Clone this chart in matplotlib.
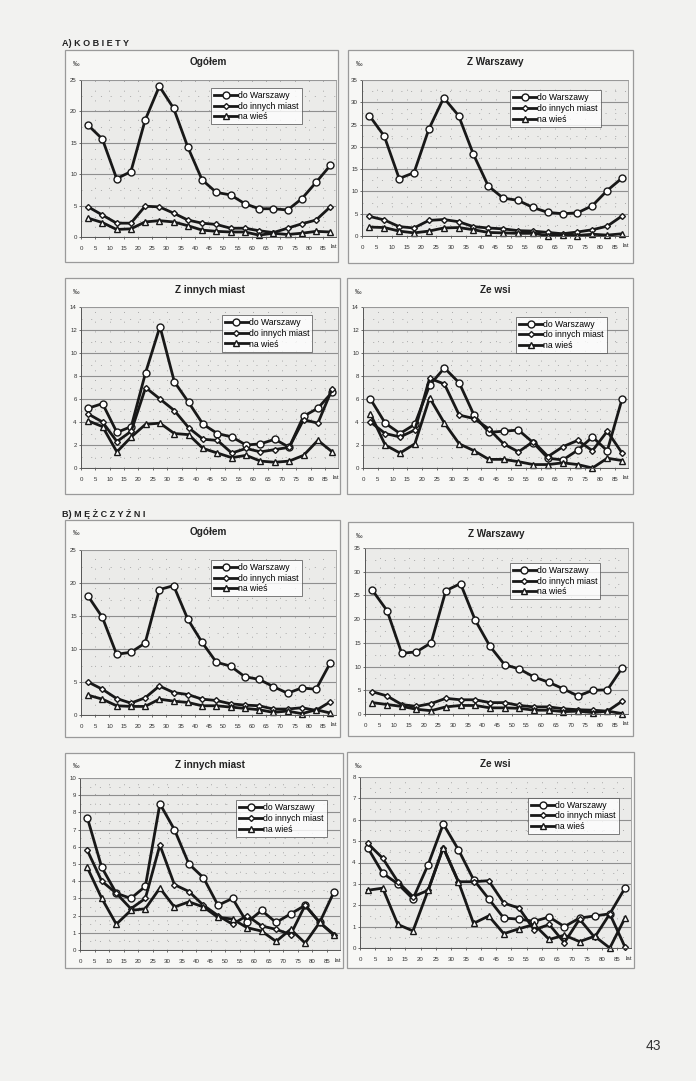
import matplotlib.pyplot as plt
from matplotlib.patches import Rectangle
from matplotlib.ticker import MultipleLocator

plt.rcParams['font.family'] = ['Liberation Sans', 'DejaVu Sans']

W, H = 696, 1081

# środki grup wieku 0-4, 5-9, ..., 85+
wiek = [2.5, 7.5, 12.5, 17.5, 22.5, 27.5, 32.5, 37.5, 42.5,
        47.5, 52.5, 57.5, 62.5, 67.5, 72.5, 77.5, 82.5, 87.5]
xticks = [0, 5, 10, 15, 20, 25, 30, 35, 40, 45, 50, 55, 60, 65, 70, 75, 80, 85]
serie = ['do Warszawy', 'do innych miast', 'na wieś']

# A) KOBIETY
k_ogolem_war = [17.8, 15.6, 9.3, 10.4, 18.6, 24.0, 20.5, 14.3, 9.1, 7.1, 6.7, 5.3, 4.5, 4.5, 4.3, 6.1, 8.7, 11.4]
k_ogolem_mia = [4.8, 3.5, 2.2, 2.2, 4.9, 4.8, 3.8, 2.7, 2.2, 2.0, 1.4, 1.4, 1.0, 0.7, 1.4, 2.1, 2.7, 4.8]
k_ogolem_wie = [3.0, 2.3, 1.2, 1.3, 2.4, 2.6, 2.4, 1.8, 1.1, 0.9, 0.8, 0.8, 0.3, 0.6, 0.4, 0.6, 0.9, 0.8]

k_zwar_war = [27.0, 22.4, 12.9, 14.2, 24.0, 31.0, 27.0, 18.3, 11.2, 8.5, 8.0, 6.4, 5.3, 5.0, 5.2, 6.8, 10.2, 13.0]
k_zwar_mia = [4.4, 3.6, 2.1, 1.8, 3.5, 3.7, 3.2, 2.1, 1.8, 1.6, 1.2, 1.1, 0.8, 0.5, 0.9, 1.4, 2.2, 4.5]
k_zwar_wie = [2.0, 1.9, 1.1, 0.7, 1.1, 1.8, 1.9, 1.4, 0.8, 0.7, 0.6, 0.6, 0.1, 0.2, 0.1, 0.4, 0.2, 0.5]

k_zmia_war = [5.2, 5.6, 3.1, 3.6, 8.3, 12.3, 7.5, 5.7, 3.8, 3.0, 2.7, 2.0, 2.1, 2.5, 1.8, 4.5, 5.2, 6.6]
k_zmia_mia = [4.7, 4.0, 2.3, 3.2, 7.0, 6.0, 5.0, 3.5, 2.5, 2.4, 1.3, 1.7, 1.4, 1.6, 1.8, 4.2, 3.9, 6.9]
k_zmia_wie = [4.1, 3.6, 1.4, 2.7, 3.8, 3.9, 3.0, 2.9, 1.7, 1.3, 0.9, 1.1, 0.6, 0.5, 0.6, 1.1, 2.4, 1.4]

k_zwsi_war = [6.0, 3.9, 3.0, 3.8, 7.2, 8.7, 7.4, 4.6, 3.1, 3.2, 3.3, 2.2, 0.85, 0.7, 1.55, 2.7, 1.5, 6.0]
k_zwsi_mia = [4.0, 3.0, 2.7, 3.3, 7.8, 7.3, 4.6, 4.3, 3.4, 2.1, 1.4, 2.3, 1.0, 1.85, 2.4, 1.5, 3.2, 1.3]
k_zwsi_wie = [4.7, 2.0, 1.3, 2.1, 6.1, 3.9, 2.1, 1.5, 0.75, 0.75, 0.55, 0.3, 0.3, 0.45, 0.3, 0.0, 0.85, 0.65]

# B) MĘŻCZYŹNI
m_ogolem_war = [18.0, 14.8, 9.2, 9.5, 10.9, 19.0, 19.6, 14.5, 11.0, 8.0, 7.4, 5.8, 5.4, 4.3, 3.3, 4.1, 3.9, 7.9]
m_ogolem_mia = [5.0, 3.9, 2.5, 1.8, 2.6, 4.4, 3.4, 3.1, 2.4, 2.2, 1.7, 1.5, 1.4, 0.9, 0.9, 1.1, 0.7, 2.0]
m_ogolem_wie = [3.0, 2.4, 1.4, 1.3, 1.3, 2.4, 2.1, 1.9, 1.4, 1.4, 1.2, 1.0, 0.8, 0.4, 0.6, 0.2, 0.8, 0.3]

m_zwar_war = [26.1, 21.8, 12.8, 13.1, 15.0, 26.0, 27.5, 19.8, 14.3, 10.4, 9.5, 7.8, 6.7, 5.3, 3.8, 5.0, 5.1, 9.7]
m_zwar_mia = [4.7, 3.8, 2.0, 1.6, 2.2, 3.3, 3.0, 3.0, 2.4, 2.4, 1.8, 1.5, 1.5, 1.1, 0.9, 0.8, 0.6, 2.7]
m_zwar_wie = [2.4, 2.0, 1.6, 1.0, 0.7, 1.5, 1.8, 1.8, 1.3, 1.3, 1.2, 0.8, 0.8, 0.5, 0.6, 0.3, 0.6, 0.1]

m_zmia_war = [7.7, 4.8, 3.3, 3.0, 3.7, 8.5, 7.0, 5.0, 4.2, 2.6, 3.0, 1.6, 2.3, 1.6, 2.1, 2.6, 1.6, 3.4]
m_zmia_mia = [5.8, 4.0, 3.3, 2.4, 3.0, 6.1, 3.8, 3.4, 2.6, 2.0, 1.5, 2.0, 1.4, 1.2, 0.9, 2.6, 1.6, 0.9]
m_zmia_wie = [4.8, 3.0, 1.5, 2.3, 2.4, 3.6, 2.5, 2.8, 2.5, 1.9, 1.8, 1.3, 1.1, 0.5, 1.2, 0.4, 1.6, 0.85]

m_zwsi_war = [4.7, 3.5, 3.0, 2.3, 3.9, 5.8, 4.6, 3.2, 2.3, 1.4, 1.35, 1.25, 1.45, 1.0, 1.4, 1.5, 1.6, 2.8]
m_zwsi_mia = [4.9, 4.2, 3.1, 2.4, 2.7, 4.7, 3.1, 3.1, 3.15, 2.1, 1.87, 0.85, 1.1, 0.25, 1.35, 0.5, 1.6, 0.05]
m_zwsi_wie = [2.7, 2.8, 1.1, 0.8, 2.7, 4.7, 3.1, 1.15, 1.5, 0.67, 0.9, 1.1, 0.4, 0.6, 0.3, 0.55, 0.0, 1.4]

# układ strony w pikselach: ramka, obszar wykresu, zakres osi y, krok, legenda
panele = [
    ('Ogółem', (65, 50, 338, 262), (81, 80, 336, 237), 25, 5, (0.51, 0.95),
     (k_ogolem_war, k_ogolem_mia, k_ogolem_wie)),
    ('Z Warszawy', (348, 50, 633, 263), (362, 80, 628, 236), 35, 5, (0.556, 0.935),
     (k_zwar_war, k_zwar_mia, k_zwar_wie)),
    ('Z innych miast', (65, 278, 340, 494), (81, 307, 338, 468), 14, 2, (0.548, 0.95),
     (k_zmia_war, k_zmia_mia, k_zmia_wie)),
    ('Ze wsi', (347, 278, 633, 494), (363, 307, 628, 468), 14, 2, (0.577, 0.94),
     (k_zwsi_war, k_zwsi_mia, k_zwsi_wie)),
    ('Ogółem', (65, 520, 340, 737), (81, 550, 336, 715), 25, 5, (0.51, 0.94),
     (m_ogolem_war, m_ogolem_mia, m_ogolem_wie)),
    ('Z Warszawy', (348, 522, 633, 736), (365, 548, 628, 714), 35, 5, (0.55, 0.91),
     (m_zwar_war, m_zwar_mia, m_zwar_wie)),
    ('Z innych miast', (65, 753, 343, 968), (80, 778, 340, 950), 10, 1, (0.6, 0.87),
     (m_zmia_war, m_zmia_mia, m_zmia_wie)),
    ('Ze wsi', (347, 752, 634, 968), (360, 777, 631, 948), 8, 1, (0.62, 0.88),
     (m_zwsi_war, m_zwsi_mia, m_zwsi_wie)),
]

style = [dict(marker='o', ms=5.0), dict(marker='D', ms=3.0), dict(marker='^', ms=4.3)]


def frac(x0, y0, x1, y1):
    return [x0 / W, 1 - y1 / H, (x1 - x0) / W, (y1 - y0) / H]


fig = plt.figure(figsize=(W / 100, H / 100), dpi=100, facecolor='#f2f2f0')

for tytul, box, plot, ymax, krok, leg, dane in panele:
    bx = frac(*box)
    fig.patches.append(Rectangle((bx[0], bx[1]), bx[2], bx[3], transform=fig.transFigure,
                                 facecolor='#f7f7f5', edgecolor='#9a9a9a', lw=0.9, zorder=-5))
    fig.text((plot[0] + plot[2]) / 2 / W, 1 - (box[1] + 12) / H, tytul,
             ha='center', va='center', fontsize=7.2, fontweight='bold', color='#222222')
    fig.text((box[0] + 8) / W, 1 - (box[1] + 14) / H, '‰',
             ha='left', va='center', fontsize=4.8, color='#333333')

    ax = fig.add_axes(frac(*plot))
    ax.set_zorder(2)
    ax.set_facecolor('#ebebe9')
    for y, st, nazwa in zip(dane, style, serie):
        ax.plot(wiek, y, color='#181818', lw=2.0, mfc='white', mec='#181818',
                mew=1.0, label=nazwa, clip_on=False, **st)
    ax.set_xlim(0, 89.5)
    ax.set_ylim(0, ymax)
    ax.set_xticks(xticks)
    ax.yaxis.set_major_locator(MultipleLocator(krok))
    ax.yaxis.set_minor_locator(MultipleLocator(krok / 2))
    ax.grid(axis='y', which='major', color='#8f8f8f', lw=0.8)
    ax.grid(axis='y', which='minor', color='#a8a8a8', lw=0.7, ls=(0, (1, 9)))
    ax.grid(axis='x', which='major', color='#a8a8a8', lw=0.7, ls=(0, (1, 9)))
    ax.set_axisbelow(True)
    ax.tick_params(labelsize=4.4, length=1.5, width=0.5, colors='#333333', pad=1.5)
    ax.tick_params(axis='x', pad=5)
    ax.tick_params(which='minor', length=0)
    for s in ['top', 'right']:
        ax.spines[s].set_color('#9a9a9a')
        ax.spines[s].set_linewidth(0.6)
    for s in ['left', 'bottom']:
        ax.spines[s].set_color('#555555')
        ax.spines[s].set_linewidth(0.7)
    ax.text(87.6, -0.045, 'lat', transform=ax.get_xaxis_transform(),
            ha='left', va='top', fontsize=4.4, color='#333333')
    lg = ax.legend(loc='upper left', bbox_to_anchor=leg, fontsize=6.2, frameon=True,
                   fancybox=False, borderpad=0.35, labelspacing=0.2, handlelength=2.7,
                   handletextpad=0.1, borderaxespad=0)
    lg.get_frame().set_edgecolor('#444444')
    lg.get_frame().set_linewidth(0.6)
    lg.get_frame().set_facecolor('white')

fig.text(62 / W, 1 - 43 / H, 'A) K O B I E T Y', fontsize=6.5, fontweight='bold',
         color='#222222', va='center')
fig.text(62 / W, 1 - 514 / H, 'B) M Ę Ż C Z Y Ź N I', fontsize=6.5, fontweight='bold',
         color='#222222', va='center')
fig.text(653 / W, 1 - 1046 / H, '43', fontsize=10, color='#333333', ha='center', va='center')

fig.savefig('out.png', dpi=100, facecolor=fig.get_facecolor())
